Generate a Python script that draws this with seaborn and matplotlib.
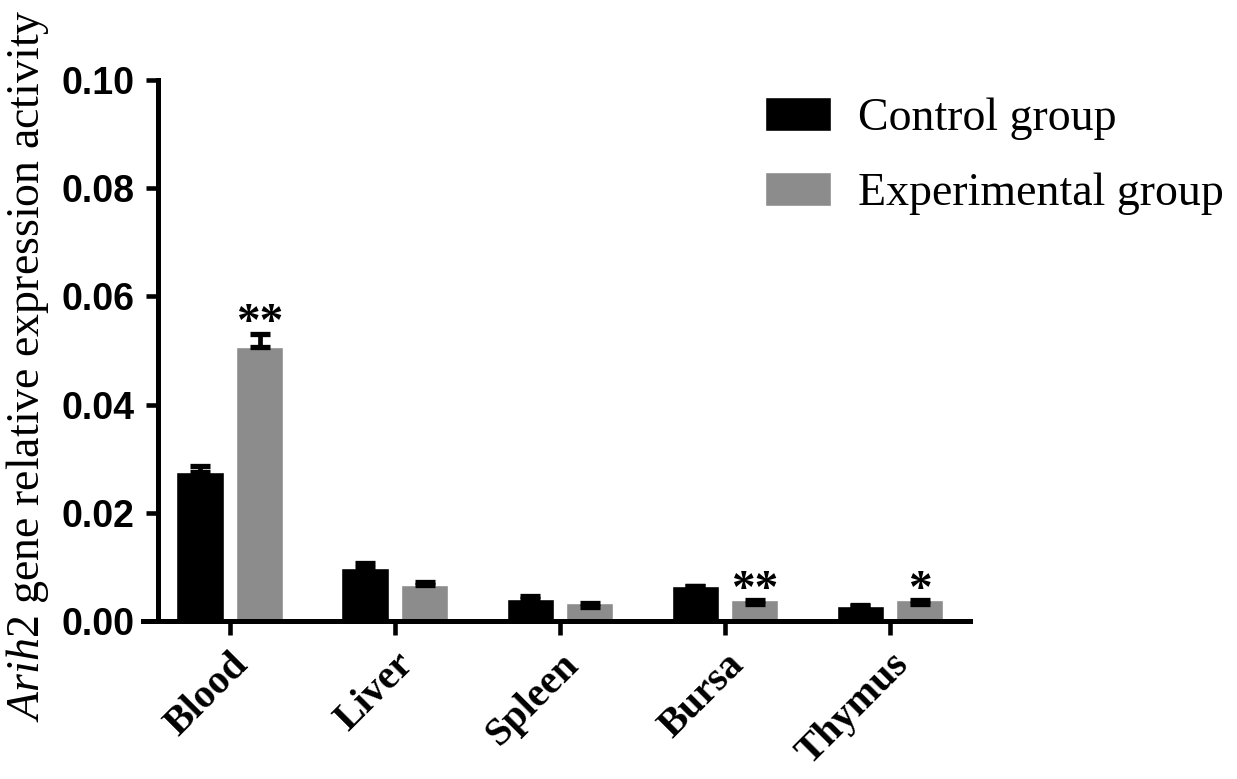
import pandas as pd
import numpy as np
import matplotlib.pyplot as plt
import seaborn as sns

tissues = ["Blood", "Liver", "Spleen", "Bursa", "Thymus"]
groups = ["Control group", "Experimental group"]
control = [0.0276, 0.0098, 0.0041, 0.0064, 0.0027]
experimental = [0.0507, 0.0066, 0.0033, 0.0038, 0.0038]
# error bars as drawn (lower, upper)
control_err_lo = [0.0, 0.0, 0.0, 0.0, 0.0]
control_err_hi = [0.0011, 0.0009, 0.0005, 0.0, 0.0002]
experimental_err_lo = [0.0, 0.0, 0.0007, 0.0007, 0.0007]
experimental_err_hi = [0.0023, 0.0007, 0.0, 0.0, 0.0]
experimental_sig = ["**", "", "", "**", "*"]
yticks = [0.00, 0.02, 0.04, 0.06, 0.08, 0.10]
colors = ["#000000", "#8c8c8c"]

df = pd.DataFrame({
    "tissue": tissues * 2,
    "group": [groups[0]] * len(tissues) + [groups[1]] * len(tissues),
    "value": control + experimental,
})

sns.set_style("ticks")
plt.rcParams["text.color"] = "black"
plt.rcParams["xtick.color"] = "black"
plt.rcParams["ytick.color"] = "black"
plt.rcParams["mathtext.fontset"] = "custom"
plt.rcParams["mathtext.rm"] = "Liberation Serif"
plt.rcParams["mathtext.it"] = "Liberation Serif:italic"

fig = plt.figure(figsize=(12.37, 7.79), dpi=100)
ax = fig.add_axes([143 / 1237, 1 - 621 / 779, 827 / 1237, 541 / 779])

sns.barplot(data=df, x="tissue", y="value", hue="group", order=tissues,
            hue_order=groups, palette=colors, saturation=1, width=0.72,
            gap=0.2, errorbar=None, ax=ax)

# error bars on top of the bars seaborn drew
errs = [(control_err_lo, control_err_hi), (experimental_err_lo, experimental_err_hi)]
for cont, (lo, hi) in zip(ax.containers[:2], errs):
    xs = [p.get_x() + p.get_width() / 2 for p in cont]
    hs = [p.get_height() for p in cont]
    ax.errorbar(xs, hs, yerr=[lo, hi], fmt="none", ecolor="black",
                elinewidth=3.4, capsize=7, capthick=3.8, zorder=3)

# significance stars
for p, e, s in zip(ax.containers[1], experimental_err_hi, experimental_sig):
    if s:
        ax.text(p.get_x() + p.get_width() / 2, p.get_height() + e - 0.0002, s,
                ha="center", va="baseline", fontsize=34, fontweight="bold",
                fontfamily="Liberation Serif")

ax.set_xlim(-0.527, 4.485)
ax.set_ylim(0, 0.1)
sns.despine(ax=ax)
ax.spines["left"].set_position(("data", -0.436))
for side in ["left", "bottom"]:
    ax.spines[side].set_linewidth(3.6)
    ax.spines[side].set_color("black")

ax.set_yticks(yticks)
ax.set_yticklabels([f"{v:.2f}" for v in yticks], fontfamily="Liberation Sans",
                   fontweight="bold", fontsize=27)
ax.set_xticks(range(len(tissues)))
ax.set_xticklabels(tissues, rotation=45, ha="right", rotation_mode="anchor",
                   fontfamily="Liberation Serif", fontweight="bold", fontsize=29)
ax.tick_params(axis="y", length=9, width=3.3, pad=8)
ax.tick_params(axis="x", length=10, width=3.3, pad=8)
ax.set_xlabel("")
ax.set_ylabel("")

fig.text(28 / 1237, 1 - 366 / 779,
         r"$\mathit{Arih2}$ gene relative expression activity",
         rotation=90, ha="center", va="center",
         fontfamily="Liberation Serif", fontsize=33)

handles, labels = ax.get_legend_handles_labels()
ax.legend(handles, labels, loc="upper left",
          bbox_to_anchor=(765 / 1237, 1 - 97 / 779),
          bbox_transform=fig.transFigure, frameon=False,
          prop={"family": "Liberation Serif", "size": 33},
          handlelength=1.44, handleheight=0.78, handletextpad=0.6,
          labelspacing=0.69, borderpad=0, borderaxespad=0)

fig.savefig("out.png", dpi=100)
